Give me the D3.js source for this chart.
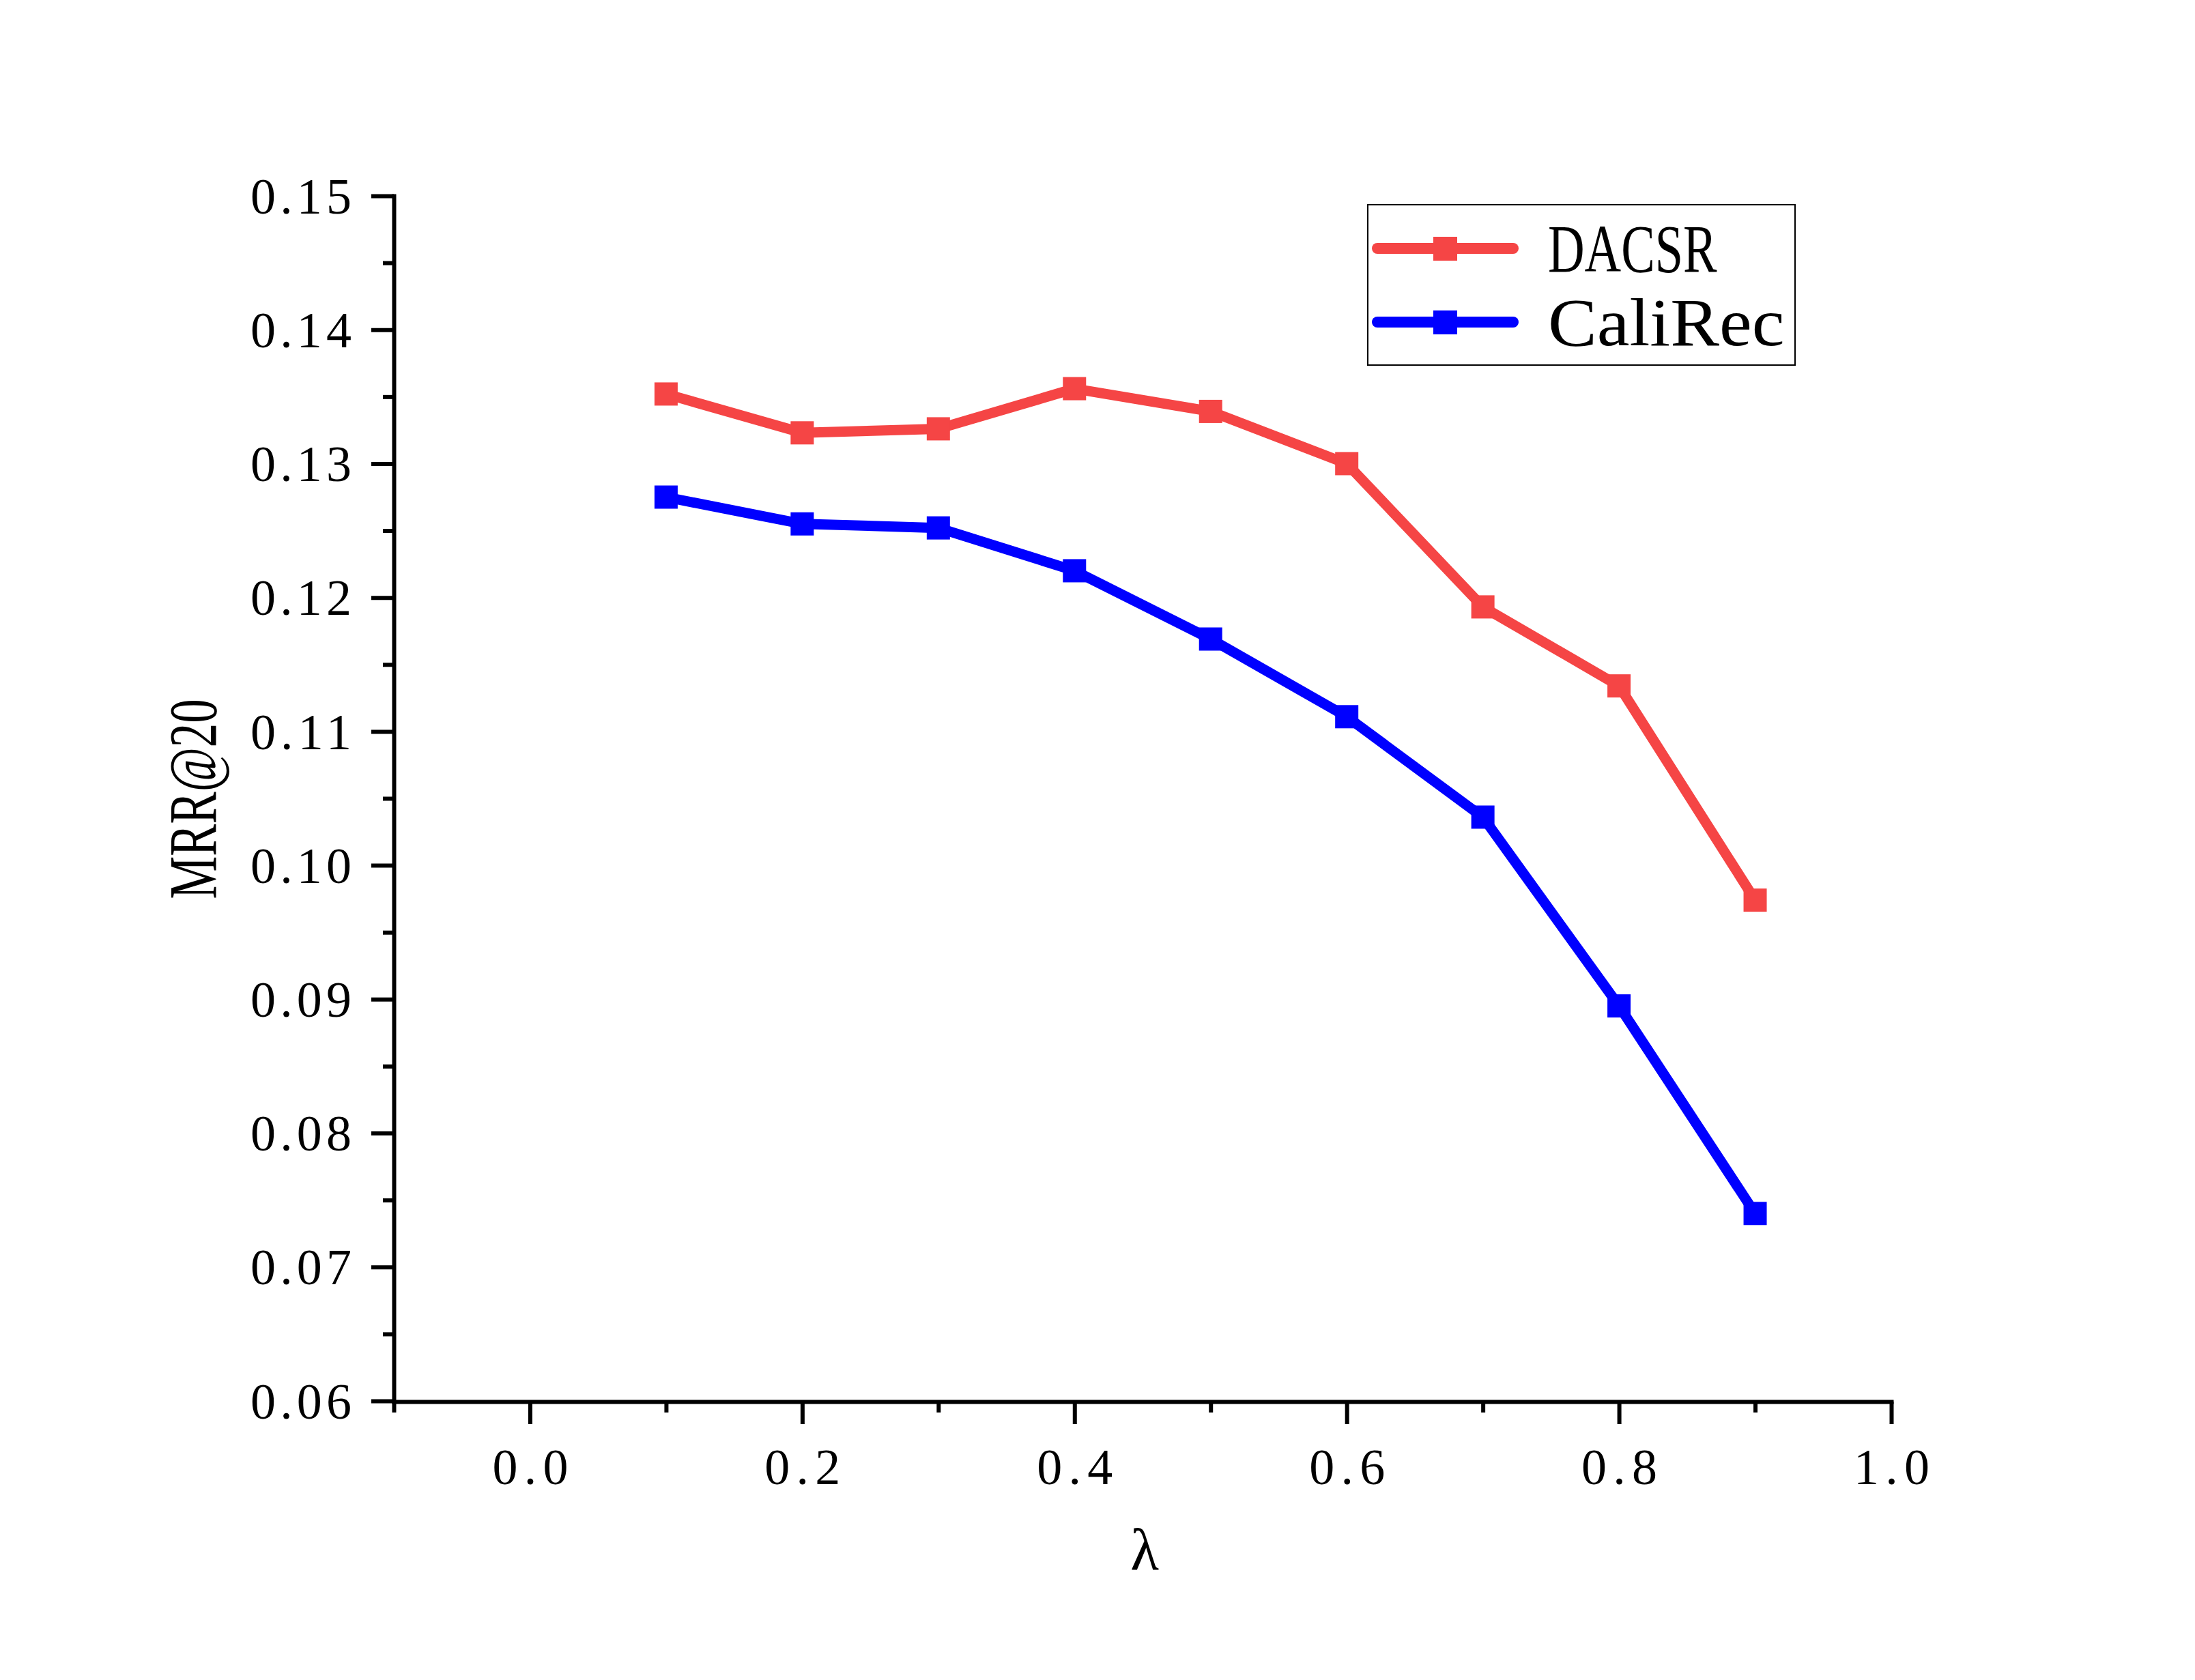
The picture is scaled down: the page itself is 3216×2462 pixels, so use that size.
<!DOCTYPE html>
<html>
<head>
<meta charset="utf-8">
<script src="https://cdn.jsdelivr.net/npm/d3@7"></script>
<style>
  body { margin: 0; background: #fff; }
  text { font-family: "Liberation Serif", "DejaVu Serif", serif; fill: #000; }
</style>
</head>
<body>
<svg id="chart"></svg>
<script>
// data
var lambdas = [0.1, 0.2, 0.3, 0.4, 0.5, 0.6, 0.7, 0.8, 0.9];
var dacsr = [0.1352, 0.1323, 0.1326, 0.1356, 0.1339, 0.1300, 0.1193, 0.1134, 0.0974];
var calirec = [0.1275, 0.1255, 0.1252, 0.1220, 0.1169, 0.1111, 0.1036, 0.0895, 0.0740];
var seriesNames = ['DACSR', 'CaliRec'];
var xTicks = [0.0, 0.2, 0.4, 0.6, 0.8, 1.0];
var xMinorTicks = [-0.1, 0.1, 0.3, 0.5, 0.7, 0.9];
var yTicks = [0.06, 0.07, 0.08, 0.09, 0.10, 0.11, 0.12, 0.13, 0.14, 0.15];
var yMinorTicks = [0.065, 0.075, 0.085, 0.095, 0.105, 0.115, 0.125, 0.135, 0.145];

const width = 3216, height = 2462;
const colors = ['#f54545', '#0000ff'];

var svg = d3.select('#chart').attr('width', width).attr('height', height);

var x = d3.scaleLinear().domain([-0.1, 1.0]).range([577, 2771]);
var y = d3.scaleLinear().domain([0.06, 0.15]).range([2053, 287]);

// half-width text, like the original font: every char gets half an em
function fixWidth(sel, fs, adjust) {
  sel.attr('textLength', function () { return this.textContent.length * fs * 0.5; })
    .attr('lengthAdjust', adjust);
}

// y axis
var yAxis = svg.append('g').attr('transform', 'translate(577,0)');
yAxis.call(d3.axisLeft(y).tickValues(yTicks).tickSize(33).tickSizeOuter(0).tickPadding(29)
  .tickFormat(d3.format('.2f')));
yAxis.append('g').call(d3.axisLeft(y).tickValues(yMinorTicks).tickSize(16).tickFormat(''))
  .select('.domain').remove();

// x axis
var xAxis = svg.append('g').attr('transform', 'translate(0,2054)');
xAxis.call(d3.axisBottom(x).tickValues(xTicks).tickSize(33).tickSizeOuter(0).tickPadding(35)
  .tickFormat(d3.format('.1f')));
xAxis.append('g').call(d3.axisBottom(x).tickValues(xMinorTicks).tickSize(16).tickFormat(''))
  .select('.domain').remove();

svg.selectAll('.domain').attr('stroke', '#000').style('stroke-width', '6px')
  .attr('stroke-linecap', 'square');
svg.selectAll('.tick line').attr('stroke', '#000').style('stroke-width', '6px');
svg.selectAll('.tick text').style('font-size', '74px')
  .style('font-family', '"Liberation Serif", serif')
  .call(fixWidth, 74, 'spacing');
yAxis.selectAll('.tick text').attr('dy', '0.34em');

// series
var allSeries = [dacsr, calirec];
var line = d3.line()
  .x(function (d, i) { return x(lambdas[i]); })
  .y(function (d) { return y(d); });

allSeries.forEach(function (vals, k) {
  svg.append('path')
    .datum(vals)
    .attr('d', line)
    .attr('fill', 'none')
    .attr('stroke', colors[k])
    .style('stroke-width', '15px')
    .attr('stroke-linejoin', 'round');

  svg.append('g')
    .selectAll('rect')
    .data(vals)
    .join('rect')
    .attr('x', function (d, i) { return x(lambdas[i]) - 17; })
    .attr('y', function (d) { return y(d) - 17; })
    .attr('width', 34)
    .attr('height', 34)
    .attr('fill', colors[k]);
});

// axis titles
svg.append('text')
  .attr('x', 1677)
  .attr('y', 2300)
  .attr('text-anchor', 'middle')
  .style('font-size', '86px')
  .text('λ');

svg.append('text')
  .attr('transform', 'translate(316,1171) rotate(-90)')
  .attr('text-anchor', 'middle')
  .style('font-size', '100px')
  .text('MRR@20')
  .attr('textLength', 293)
  .attr('lengthAdjust', 'spacingAndGlyphs');

// legend
var legend = svg.append('g');
legend.append('rect')
  .attr('x', 2004)
  .attr('y', 300)
  .attr('width', 626)
  .attr('height', 235)
  .attr('fill', '#fff')
  .attr('stroke', '#000')
  .style('stroke-width', '2px');

var legendY = [364, 472];
seriesNames.forEach(function (name, k) {
  legend.append('line')
    .attr('x1', 2018)
    .attr('x2', 2217)
    .attr('y1', legendY[k])
    .attr('y2', legendY[k])
    .attr('stroke', colors[k])
    .style('stroke-width', '16px')
    .attr('stroke-linecap', 'round');
  legend.append('rect')
    .attr('x', 2117 - 17)
    .attr('y', legendY[k] - 17)
    .attr('width', 35)
    .attr('height', 35)
    .attr('fill', colors[k]);
  legend.append('text')
    .attr('x', 2268)
    .attr('y', legendY[k] + 34)
    .style('font-size', '99px')
    .text(name)
    .call(fixWidth, 99, 'spacingAndGlyphs');
});
</script>
</body>
</html>
